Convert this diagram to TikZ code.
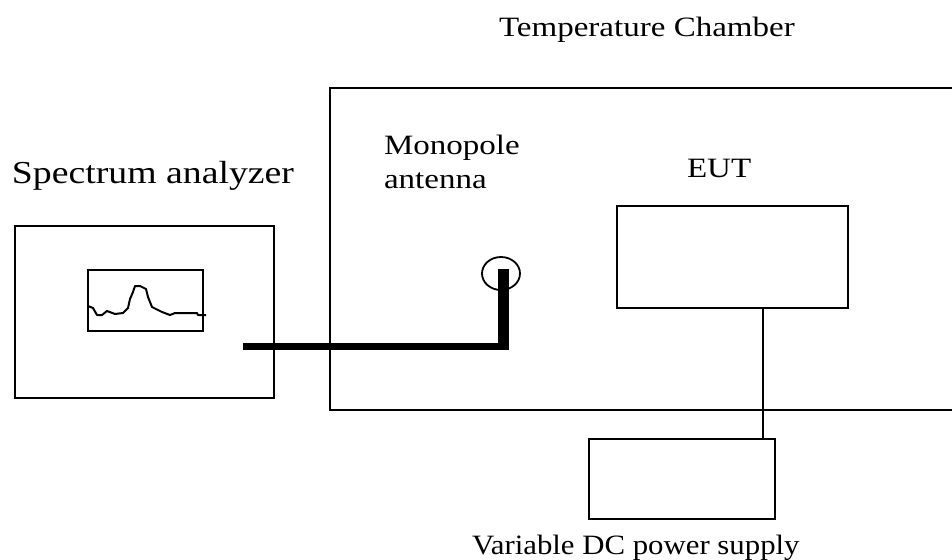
\documentclass[tikz,border=0pt]{standalone}
\usepackage{fontspec}
\setmainfont{Liberation Serif}
\newfontfamily\widefont[FakeStretch=1.18]{Liberation Serif}
\newfontfamily\slimfont[FakeStretch=1.1]{Liberation Serif}
\usetikzlibrary{shapes.geometric}
\tikzset{
  box/.style={draw, line width=1.8pt, inner sep=0pt, outer sep=0pt},
  lbl/.style={inner sep=0pt, outer sep=0pt, anchor=base west},
}
\begin{document}
\begin{tikzpicture}[x=1pt, y=-1pt, line width=1.8pt]
  \useasboundingbox (0, 0) rectangle (952, 559);
  \node[lbl, font=\widefont\fontsize{28}{33}\selectfont] (chamberlbl) at (499, 37) {Temperature Chamber};
  \node[lbl, font=\widefont\fontsize{32}{40}\selectfont] (analyzerlbl) at (12, 183) {Spectrum analyzer};
  \node[lbl, font=\widefont\fontsize{28}{33}\selectfont] (monolbl) at (384, 154) {Monopole};
  \node[lbl, font=\widefont\fontsize{28}{33}\selectfont] (antlbl) at (384, 188) {antenna};
  \node[lbl, font=\widefont\fontsize{28}{33}\selectfont] (eutlbl) at (687, 177) {EUT};
  \node[lbl, font=\slimfont\fontsize{28}{33}\selectfont] (supplylbl) at (472, 554) {Variable DC power supply};

  \node[box, minimum width=259pt, minimum height=172pt] (analyzer) at (144.5, 312) {};
  \node[box, minimum width=115pt, minimum height=61pt] (screen) at (145.5, 300.5) {};
  \node[box, minimum width=231pt, minimum height=102pt] (eut) at (732.5, 257) {};
  \node[box, minimum width=186pt, minimum height=80pt] (supply) at (682, 479) {};
  \node[box, ellipse, minimum width=38pt, minimum height=33pt] (antenna) at (501, 273.5) {};

  \coordinate (chtr) at (952, 88);
  \coordinate (chtl) at (330, 88);
  \coordinate (chbl) at (330, 410);
  \coordinate (chbr) at (952, 410);
  \draw (chtr) -- (chtl) -- (chbl) -- (chbr);

  \coordinate (cablestart) at (243, 346.5);
  \coordinate (cablebend) at (503, 346.5);
  \coordinate (cableend) at (503, 269);
  \draw[line width=7pt] (cablestart) -- (cablebend);
  \draw[line width=11pt] (cablebend) ++(0, 3.5) -- (cableend);

  \coordinate (eutout) at (763, 308);
  \coordinate (supplyin) at (763, 439);
  \draw (eutout) -- (supplyin);

  % trace on the screen
  \draw[line width=2pt, line join=round]
    (88,306) -- (93,308) -- (97,315) -- (102,315) -- (107,311) -- (115,314)
    -- (123,313) -- (128,308) -- (130,299) -- (133,292) -- (135,286) -- (140,286)
    -- (146,289) -- (148,297) -- (152,307) -- (162,312) -- (170,315) -- (175,313)
    -- (197,313) -- (198,315) -- (206,315);
\end{tikzpicture}
\end{document}
